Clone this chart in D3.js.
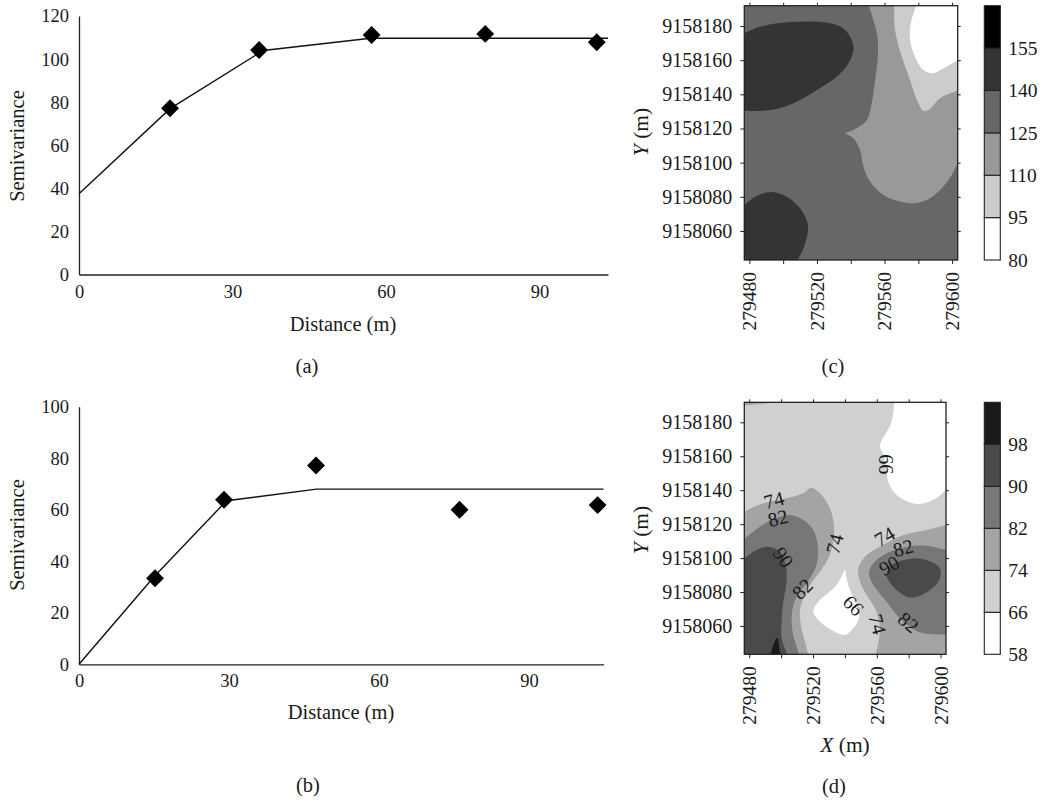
<!DOCTYPE html>
<html>
<head>
<meta charset="utf-8">
<script src="https://cdn.jsdelivr.net/npm/d3@7"></script>
<style>
  html, body { margin: 0; padding: 0; background: #fff; }
  svg { display: block; }
  text { font-family: "Liberation Serif", serif; fill: #1a1a1a; }
</style>
</head>
<body>
<svg id="chart" width="1041" height="803"></svg>
<script>
// (a) and (b) semivariograms: distance, semivariance
var aPointX = [17.8, 35.2, 57.2, 79.4, 101.2];
var aPointY = [77.2, 104.2, 111.2, 111.7, 107.8];
var aLineX = [0, 17.8, 36, 57, 103.4];
var aLineY = [37.5, 77, 104, 109.7, 109.7];
var aYTicks = [0, 20, 40, 60, 80, 100, 120];

var bPointX = [15.2, 29, 47.4, 76.1, 103.7];
var bPointY = [33.4, 63.9, 77.2, 60, 61.8];
var bLineX = [0, 15, 29.5, 47.5, 104.9];
var bLineY = [0, 34, 63.5, 68, 68];
var bYTicks = [0, 20, 40, 60, 80, 100];

var distTicks = [0, 30, 60, 90];

// map coordinates are metres from these origins
var east0 = 279000;
var north0 = 9158000;
var eastTicks = [480, 500, 520, 540, 560, 580, 600];
var northTicks = [60, 80, 100, 120, 140, 160, 180];

// (c) contour outlines
var cDarkA = [[477,175.7],[486.3,179.6],[504.1,182.3],[525.8,182],[535.7,178.6],[540.6,171.8],[541.6,166],[538.6,158.1],[531.7,150.3],[519.9,142.5],[510,136.7],[500.1,132.4],[488.3,130.4],[477,130.4]];
var cDarkB = [[477,75.2],[484.3,80.5],[493.2,82.8],[502.1,80.1],[510,73.3],[514.5,64.5],[514.5,58.6],[512,49.9],[508.6,43]];
var cDarkBEnd = [[477,43]];
var cMid = [[550.7,191.9],[553.4,183.5],[555.8,173.8],[556,162],[554.4,148.4],[552.4,134.7],[549.5,125],[544.5,120.7],[536.6,117.2],[536.6,117.2],[541.6,114.2],[545.5,107.4],[547.5,97.7],[551.4,88.9],[559.3,81.1],[569.2,77.2],[577.1,76.2],[585,78.1],[592.9,84],[599.8,92.8],[603.3,100]];
var cLight = [[565.7,191.9],[566.2,177.7],[570.2,162],[575.1,148.4],[579.1,136.7],[583,130.4],[586,130.8],[592.9,137.7],[598.8,140.6],[603.3,142.1]];
var cWhite = [[578.7,191.9],[575.5,181.6],[575.1,171.8],[578.1,162],[583,154.2],[588,152.3],[594.9,155.2],[603.3,160.1]];
var cTopRight = [[603.3,191.9]];
var cLevels = [80, 95, 110, 125, 140, 155, 170];
var cGreys = ["#ffffff", "#cccccc", "#999999", "#676767", "#333534", "#000000"];

// (d) contour outlines
var dTopLeft = [[476.9,189.8],[484.6,190.6],[499.2,191.8]];
var dTopLeftEnd = [[476.9,191.8]];
var d74L = [[476.9,127.4],[488.8,132.3],[503.4,135.2],[513.9,138.2],[518.7,141.5],[525.4,137.2],[530.6,129.3],[533.1,119.5],[532.7,109.7],[529.6,99.9],[524.3,92],[518.1,84.2],[513.9,76.3],[511.8,68.5],[512.8,58.6],[514.9,50.8],[517,43.3]];
var d82L = [[476.9,111.3],[486.7,118.5],[497.1,123.8],[505.5,125.4],[513.9,122.5],[520.1,116.6],[522.9,107.7],[522.2,95.9],[518.1,88.1],[511.8,80.2],[508,73.4],[506.6,64.5],[507.6,54.7],[511.4,43.3]];
var d90L = [[476.9,99.9],[484.6,104.8],[491.9,106.7],[499.2,103.8],[502.8,95.9],[503.4,86.1],[501.3,74.3],[500.3,62.6],[500.3,52.7],[503.8,43.3]];
var dLeftEnd = [[476.9,43.3]];
var d98 = [[493.4,43.3],[495.1,48.8],[497.6,53.1],[499.2,44.9],[499.9,43.3]];
var d74R = [[603.4,119.5],[591.2,116.6],[576.6,113.6],[564,107.7],[553.6,101.8],[548.4,94],[549.4,86.1],[553.6,78.3],[558.8,70.4],[562,58.6],[559.4,43.3]];
var dBottomRight = [[603.4,43.3]];
var d82R = [[603.4,104.8],[591.2,107.3],[578.7,106.7],[566.1,102.8],[557.8,96.9],[555.1,91],[557.8,84.2],[566.1,74.3],[574.5,64.5],[585,57.1],[595.4,55.1],[603.4,55.1]];
var d90R = [[580.8,99.5],[591.2,98.9],[599.6,94],[599.2,87.1],[593.3,81.2],[582.9,76.7],[576.6,78.3],[570.3,83.2],[566.1,90.1],[569.3,96]];
var dWhiteTop = [[570.9,191.8],[569.3,180.4],[565.1,172.5],[562,166.6],[564,160.8],[566.1,152.9],[567.2,145],[572.4,137.2],[585,131.9],[595.4,134.2],[603.4,140.1]];
var dTopRight = [[603.4,191.8]];
var dWhiteLow = [[540,93.6],[542.1,84.2],[546.3,74.3],[549,65.5],[545.2,58.6],[540,54.7],[532.7,57.1],[524.3,62.6],[520.1,68.5],[523.3,74.3],[534.8,84.2],[540,93.6]];
var dLevels = [58, 66, 74, 82, 90, 98, 106];
var dGreys = ["#ffffff", "#d0d0d0", "#a4a4a4", "#777777", "#4a4a4a", "#1a1a1a"];

// contour labels: text, east, north, rotation
var dLabelText = ["74", "82", "90", "74", "82", "66", "74", "82", "90", "66", "74", "82"];
var dLabelE = [495.5, 498, 501.3, 533.7, 513.5, 565.7, 565, 576.6, 567.8, 545.2, 560.3, 579.7];
var dLabelN = [134, 123.4, 100.3, 108.3, 81.8, 155.3, 112.6, 105.8, 95.5, 72, 61, 62];
var dLabelAngle = [-15, -15, 55, -75, -45, 90, -30, -15, -30, 45, 75, 40];

var svg = d3.select("#chart");

function text(x, y, str, opts) {
  opts = opts || {};
  return svg.append("text")
    .attr("x", x).attr("y", y)
    .attr("text-anchor", "middle")
    .attr("font-size", opts.size || 20.5)
    .attr("transform", opts.rotate ? "rotate(" + opts.rotate + " " + x + " " + y + ")" : null)
    .text(str);
}

// semivariogram panel
function variogram(xMax, yMax, box, yTicks, lineX, lineY, ptX, ptY) {
  var x = d3.scaleLinear().domain([0, xMax]).range([box.left, box.right]);
  var y = d3.scaleLinear().domain([0, yMax]).range([box.bottom, box.top]);

  var g = svg.append("g");
  var xAxis = g.append("g")
    .attr("transform", "translate(0," + box.bottom + ")")
    .call(d3.axisBottom(x).tickValues(distTicks).tickSize(0).tickPadding(10).tickFormat(d3.format("d")));
  var yAxis = g.append("g")
    .attr("transform", "translate(" + box.left + ",0)")
    .call(d3.axisLeft(y).tickValues(yTicks).tickSize(0).tickPadding(10));
  [xAxis, yAxis].forEach(function(a) {
    a.attr("font-family", null);
    a.selectAll("text").attr("font-size", 18.5);
    a.select(".domain").attr("stroke", "#222").attr("stroke-width", 1.3);
  });

  var line = d3.line().x(function(d) { return x(d[0]); }).y(function(d) { return y(d[1]); });
  g.append("path")
    .attr("d", line(d3.zip(lineX, lineY)))
    .attr("fill", "none").attr("stroke", "#111").attr("stroke-width", 1.4);

  g.selectAll("path.pt")
    .data(d3.zip(ptX, ptY))
    .enter()
    .append("path")
    .attr("class", "pt")
    .attr("d", d3.symbol().type(d3.symbolSquare).size(160))
    .attr("transform", function(d) { return "translate(" + x(d[0]) + "," + y(d[1]) + ") rotate(45)"; })
    .attr("fill", "#000");
}

variogram(103.4, 120, {left: 79, right: 608, top: 16, bottom: 274.5}, aYTicks, aLineX, aLineY, aPointX, aPointY);
variogram(104.9, 100, {left: 79, right: 603.6, top: 406.7, bottom: 664.3}, bYTicks, bLineX, bLineY, bPointX, bPointY);

// outline through pts as a smooth curve, then straight along the frame through ends
function regionPath(x, y, pts, ends) {
  var line = d3.line()
    .x(function(d) { return x(d[0]); })
    .y(function(d) { return y(d[1]); })
    .curve(d3.curveCatmullRom.alpha(0.5));
  var p = line(pts);
  (ends || []).forEach(function(e) { p += "L" + x(e[0]) + "," + y(e[1]); });
  return p + "Z";
}

function mapPanel(id, east, north, box) {
  var x = d3.scaleLinear().domain(east).range([box.left, box.right]);
  var y = d3.scaleLinear().domain(north).range([box.bottom, box.top]);
  var g = svg.append("g");
  g.append("clipPath").attr("id", id)
    .append("rect")
    .attr("x", box.left).attr("y", box.top)
    .attr("width", box.right - box.left).attr("height", box.bottom - box.top);
  return {x: x, y: y, g: g, box: box, layer: g.append("g").attr("clip-path", "url(#" + id + ")")};
}

function mapFrame(m) {
  var b = m.box;
  var xLab = function(d) { return (d - 480) % 40 == 0 ? (east0 + d) : ""; };
  var yLab = function(d) { return north0 + d; };
  var bottom = m.g.append("g").attr("transform", "translate(0," + b.bottom + ")")
    .call(d3.axisBottom(m.x).tickValues(eastTicks).tickSize(4).tickFormat(xLab));
  bottom.selectAll("text")
    .attr("font-size", 19.5)
    .attr("transform", "rotate(-90)")
    .attr("text-anchor", "end")
    .attr("x", -12).attr("y", 0).attr("dy", "0.33em");
  var left = m.g.append("g").attr("transform", "translate(" + b.left + ",0)")
    .call(d3.axisLeft(m.y).tickValues(northTicks).tickSize(4).tickPadding(8).tickFormat(yLab));
  left.selectAll("text").attr("font-size", 20);
  var top = m.g.append("g").attr("transform", "translate(0," + b.top + ")")
    .call(d3.axisTop(m.x).tickValues(eastTicks).tickSize(3).tickFormat(""));
  var right = m.g.append("g").attr("transform", "translate(" + b.right + ",0)")
    .call(d3.axisRight(m.y).tickValues(northTicks).tickSize(3).tickFormat(""));
  [bottom, left, top, right].forEach(function(a) {
    a.attr("font-family", null);
    a.select(".domain").remove();
    a.selectAll("line").attr("stroke", "#222");
  });
  m.g.append("rect")
    .attr("x", b.left).attr("y", b.top)
    .attr("width", b.right - b.left).attr("height", b.bottom - b.top)
    .attr("fill", "none").attr("stroke", "#222").attr("stroke-width", 1.3);
}

function colorBar(levels, greys, top, bottom) {
  var y = d3.scaleLinear().domain([levels[0], levels[levels.length - 1]]).range([bottom, top]);
  var g = svg.append("g");
  g.selectAll("rect")
    .data(greys)
    .enter()
    .append("rect")
    .attr("x", 984.3).attr("width", 16)
    .attr("y", function(d, i) { return y(levels[i + 1]); })
    .attr("height", function(d, i) { return y(levels[i]) - y(levels[i + 1]); })
    .attr("fill", function(d) { return d; })
    .attr("stroke", "#222").attr("stroke-width", 1.1);
  var ax = g.append("g").attr("transform", "translate(1000.3,0)")
    .call(d3.axisRight(y).tickValues(levels.slice(0, -1)).tickSize(0).tickPadding(8));
  ax.attr("font-family", null);
  ax.select(".domain").remove();
  ax.selectAll("text").attr("font-size", 19.5);
}

// panel (c)
var mc = mapPanel("clipC", [477, 603.3], [43, 191.9], {left: 744.3, right: 957.7, top: 5.7, bottom: 260});
mc.layer.append("rect").attr("x", 744.3).attr("y", 5.7).attr("width", 213.4).attr("height", 254.3).attr("fill", cGreys[3]);
[[cDarkA, [], 4], [cDarkB, cDarkBEnd, 4], [cMid, cTopRight, 2], [cLight, cTopRight, 1], [cWhite, cTopRight, 0]].forEach(function(r) {
  mc.layer.append("path").attr("d", regionPath(mc.x, mc.y, r[0], r[1])).attr("fill", cGreys[r[2]]);
});
mapFrame(mc);
colorBar(cLevels, cGreys, 5.7, 260);

// panel (d)
var md = mapPanel("clipD", [476.9, 603.4], [43.3, 191.8], {left: 744.3, right: 946, top: 402.3, bottom: 654.3});
md.layer.append("rect").attr("x", 744.3).attr("y", 402.3).attr("width", 201.7).attr("height", 252).attr("fill", dGreys[1]);
[[dTopLeft, dTopLeftEnd, 2], [d74L, dLeftEnd, 2], [d82L, dLeftEnd, 3], [d90L, dLeftEnd, 4], [d98, [], 5],
 [d74R, dBottomRight, 2], [d82R, [], 3], [dWhiteTop, dTopRight, 0], [dWhiteLow, [], 0]].forEach(function(r) {
  md.layer.append("path").attr("d", regionPath(md.x, md.y, r[0], r[1])).attr("fill", dGreys[r[2]]);
});
md.layer.append("path")
  .attr("d", d3.line().x(function(d) { return md.x(d[0]); }).y(function(d) { return md.y(d[1]); }).curve(d3.curveCatmullRomClosed.alpha(0.5))(d90R))
  .attr("fill", dGreys[4]);
md.g.selectAll("text.contour")
  .data(dLabelText)
  .enter()
  .append("text")
  .attr("class", "contour")
  .attr("text-anchor", "middle")
  .attr("dy", "0.33em")
  .attr("font-size", 20)
  .attr("transform", function(d, i) {
    return "translate(" + md.x(dLabelE[i]) + "," + md.y(dLabelN[i]) + ") rotate(" + dLabelAngle[i] + ")";
  })
  .text(function(d) { return d; });
mapFrame(md);
colorBar(dLevels, dGreys, 402.3, 654.3);

// titles
text(343, 331, "Distance (m)");
text(341, 719, "Distance (m)");
text(24, 146, "Semivariance", {rotate: -90});
text(24, 535, "Semivariance", {rotate: -90});
text(307, 373, "(a)");
text(308, 792, "(b)");
text(833, 373, "(c)");
text(834, 793, "(d)");

function mapTitle(x, y, letter, rotate) {
  var t = text(x, y, "", {size: 21.5, rotate: rotate});
  t.append("tspan").attr("font-style", "italic").text(letter);
  t.append("tspan").text(" (m)");
}
mapTitle(648, 132, "Y", -90);
mapTitle(648, 530, "Y", -90);
mapTitle(845, 752, "X");
</script>
</body>
</html>
